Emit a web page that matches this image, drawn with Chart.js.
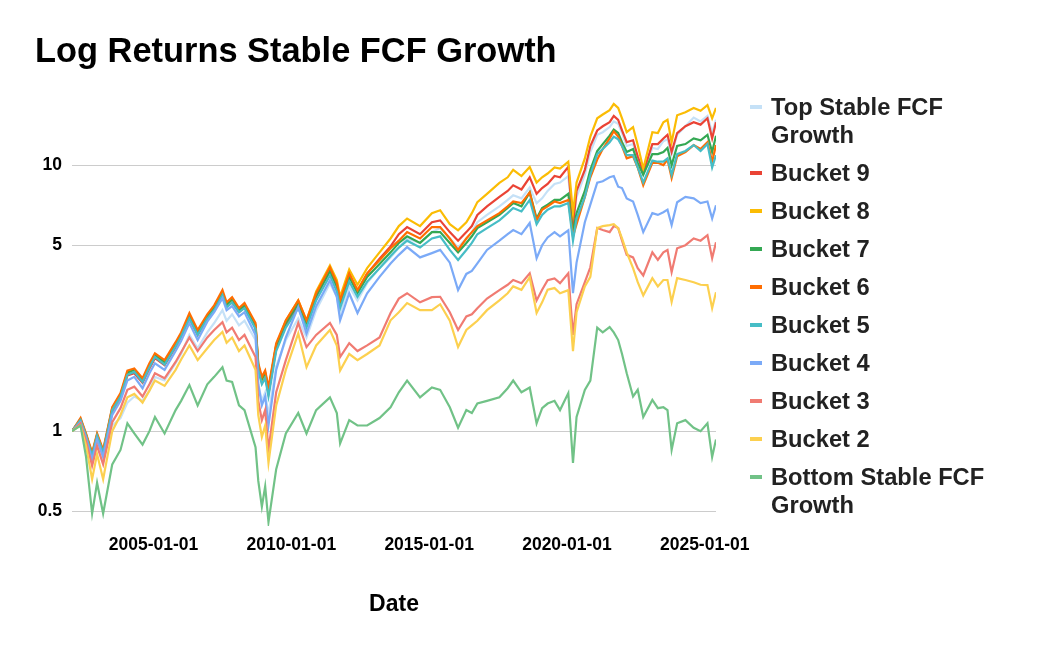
<!DOCTYPE html>
<html><head><meta charset="utf-8">
<script src="https://cdn.jsdelivr.net/npm/chart.js@4.4.1/dist/chart.umd.min.js"></script>
<style>
html,body{margin:0;padding:0;background:#fff;}
#wrap{position:relative;width:1040px;height:650px;overflow:hidden;}
#c{position:absolute;left:0;top:0;}
#legend{position:absolute;left:750px;top:93px;font:bold 23.7px "Liberation Sans",Arial,sans-serif;color:#222;}
.item{display:flex;align-items:flex-start;margin-bottom:10px;line-height:28px;}
.sw{width:12px;height:4px;margin-top:12px;margin-right:9px;flex:none;}
.lbl{max-width:230px;}
</style></head>
<body>
<div id="wrap"><canvas id="c" width="1040" height="650"></canvas><div id="legend"></div></div>
<script>
const titleText = "Log Returns Stable FCF Growth";
const xTitle = "Date";
const seriesNames = ["Top Stable FCF Growth","Bucket 9","Bucket 8","Bucket 7","Bucket 6","Bucket 5","Bucket 4","Bucket 3","Bucket 2","Bottom Stable FCF Growth"];
const seriesColors = ["#c5e1f7","#ea4335","#fbbc04","#34a853","#ff6d01","#46bdc6","#7baaf7","#f07b72","#fcd04f","#71c287"];
const xTickYears = [2005, 2010, 2015, 2020, 2025];
const yTickValues = [0.5, 1, 5, 10];

// dates as decimal years
const dates = [
 2002.04,2002.35,2002.55,2002.77,2002.95,2003.17,2003.5,2003.8,2004.05,2004.3,
 2004.6,2004.85,2005.05,2005.4,2005.8,2006.0,2006.3,2006.6,2006.95,2007.2,
 2007.5,2007.65,2007.85,2008.1,2008.3,2008.7,2008.8,2008.93,2009.05,2009.17,
 2009.45,2009.8,2010.25,2010.55,2010.9,2011.4,2011.65,2011.77,2012.1,2012.4,
 2012.75,2013.2,2013.6,2013.9,2014.2,2014.67,2015.1,2015.4,2015.75,2016.05,
 2016.35,2016.55,2016.75,2017.1,2017.55,2017.85,2018.05,2018.35,2018.65,2018.9,
 2019.1,2019.3,2019.55,2019.75,2020.05,2020.22,2020.35,2020.65,2020.85,2021.1,
 2021.3,2021.55,2021.7,2021.86,2022.0,2022.17,2022.4,2022.57,2022.77,2023.1,
 2023.3,2023.5,2023.65,2023.8,2024.0,2024.3,2024.6,2024.85,2025.1,2025.27,
 2025.41];

const topStable = [
 1.0,1.08,0.93,0.76,0.9,0.77,1.05,1.12,1.28,1.35,
 1.3,1.42,1.6,1.55,1.8,1.95,2.3,2.05,2.35,2.55,
 2.85,2.6,2.75,2.5,2.6,2.2,1.5,1.3,1.4,1.15,
 1.75,2.2,2.65,2.25,2.85,3.6,3.2,2.75,3.5,3.1,
 3.6,4.1,4.5,4.9,5.3,5.1,5.6,5.8,5.3,4.9,
 5.3,5.6,6.1,6.5,7.0,7.4,7.7,7.5,8.25,7.2,
 7.5,8.0,8.5,8.6,9.1,6.0,7.6,9.2,11.2,13.0,
 13.3,13.9,14.6,14.3,13.2,11.8,12.0,10.6,9.2,11.6,
 11.5,12.3,12.5,11.0,13.0,14.0,15.1,14.6,15.3,13.2,
 14.8];
const bucket9 = [
 1.0,1.1,0.95,0.8,0.94,0.82,1.18,1.33,1.62,1.65,
 1.52,1.72,1.88,1.77,2.07,2.27,2.65,2.3,2.65,2.85,
 3.25,2.95,3.05,2.8,2.92,2.45,1.72,1.52,1.62,1.38,
 2.05,2.5,2.98,2.52,3.2,4.0,3.5,3.05,3.85,3.35,
 3.9,4.45,4.95,5.5,5.85,5.5,6.1,6.2,5.6,5.2,
 5.6,5.9,6.5,7.0,7.6,8.0,8.4,8.1,9.0,7.8,
 8.2,8.5,9.1,9.0,9.85,5.9,8.0,9.6,11.8,13.5,
 14.0,14.5,15.3,14.8,13.5,12.2,12.4,10.8,9.4,12.0,
 12.0,12.6,13.0,11.2,13.2,14.0,14.5,14.2,15.0,12.6,
 14.5];
const bucket8 = [
 1.0,1.1,0.96,0.8,0.95,0.82,1.2,1.35,1.65,1.68,
 1.55,1.75,1.92,1.8,2.1,2.3,2.7,2.35,2.68,2.9,
 3.3,3.0,3.1,2.85,3.0,2.5,1.75,1.55,1.65,1.42,
 2.1,2.6,3.1,2.6,3.35,4.2,3.7,3.2,4.05,3.55,
 4.1,4.7,5.3,5.9,6.3,5.9,6.6,6.77,6.0,5.69,
 6.1,6.6,7.26,7.8,8.58,9.0,9.6,9.1,9.84,8.6,
 9.0,9.3,9.8,9.7,10.3,6.6,8.6,10.6,12.8,15.0,
 15.5,16.1,17.0,16.4,15.0,13.3,13.9,11.9,9.7,13.3,
 13.2,14.5,14.8,12.2,15.4,15.8,16.4,16.0,16.8,15.0,
 16.4];
const bucket7 = [
 1.0,1.11,0.97,0.82,0.97,0.84,1.22,1.37,1.66,1.7,
 1.56,1.77,1.93,1.82,2.12,2.31,2.72,2.36,2.7,2.92,
 3.3,3.0,3.12,2.85,2.97,2.5,1.77,1.57,1.66,1.43,
 2.1,2.55,3.02,2.55,3.22,4.0,3.5,3.02,3.8,3.3,
 3.8,4.25,4.7,5.1,5.4,5.1,5.6,5.6,5.1,4.7,
 5.1,5.4,5.8,6.1,6.5,6.9,7.2,7.0,7.9,6.3,
 6.9,7.1,7.4,7.4,7.8,5.6,6.6,8.0,9.6,11.3,
 12.0,12.9,13.6,13.2,12.2,11.2,11.5,10.2,9.2,11.0,
 11.0,11.2,11.6,10.0,11.8,12.0,12.6,12.4,13.0,11.2,
 12.9];
const bucket6 = [
 1.0,1.12,0.98,0.83,0.98,0.85,1.23,1.39,1.69,1.72,
 1.58,1.8,1.96,1.85,2.16,2.35,2.78,2.4,2.75,2.97,
 3.39,3.05,3.19,2.9,3.03,2.55,1.8,1.6,1.69,1.46,
 2.14,2.61,3.1,2.61,3.3,4.13,3.6,3.1,3.92,3.39,
 3.92,4.39,4.87,5.2,5.6,5.3,5.85,5.85,5.3,4.8,
 5.3,5.6,5.9,6.2,6.6,7.0,7.3,7.2,7.9,6.2,
 6.8,7.0,7.3,7.2,7.4,5.4,6.0,7.6,9.0,10.5,
 11.5,12.6,13.4,12.8,11.8,10.6,10.8,9.8,8.4,10.2,
 10.2,10.0,10.5,8.95,10.8,11.2,11.9,11.5,12.2,10.3,
 11.9];
const bucket5 = [
 1.0,1.1,0.96,0.81,0.96,0.83,1.2,1.35,1.63,1.67,
 1.53,1.74,1.9,1.78,2.08,2.27,2.65,2.3,2.65,2.85,
 3.25,2.92,3.05,2.8,2.9,2.42,1.7,1.5,1.58,1.35,
 2.0,2.45,2.9,2.45,3.1,3.85,3.35,2.9,3.65,3.2,
 3.65,4.1,4.55,4.9,5.2,4.9,5.3,5.4,4.8,4.4,
 4.8,5.1,5.5,5.8,6.2,6.6,6.9,6.7,7.4,6.0,
 6.5,6.8,7.0,7.0,7.2,5.2,6.3,7.6,9.2,11.0,
 11.5,12.2,12.8,12.5,11.8,10.9,10.9,9.8,8.6,10.4,
 10.3,10.3,10.6,9.2,11.0,11.3,11.9,11.3,12.0,9.8,
 10.9];
const bucket4 = [
 1.0,1.08,0.94,0.78,0.93,0.8,1.15,1.3,1.55,1.6,
 1.45,1.65,1.8,1.7,2.0,2.18,2.55,2.2,2.58,2.8,
 3.16,2.85,2.95,2.7,2.8,2.3,1.5,1.25,1.35,1.05,
 1.7,2.25,2.93,2.33,2.95,3.69,3.2,2.61,3.3,2.78,
 3.3,3.8,4.27,4.6,4.92,4.5,4.67,4.8,4.3,3.39,
 3.9,4.0,4.27,4.8,5.2,5.5,5.7,5.5,6.06,4.47,
 5.0,5.35,5.6,5.4,5.69,3.3,4.3,6.1,7.1,8.6,
 8.7,9.0,9.1,8.3,8.2,7.5,7.3,6.5,5.6,6.6,
 6.5,6.65,6.8,5.95,7.25,7.6,7.5,7.2,7.3,6.3,
 7.07];
const bucket3 = [
 1.0,1.07,0.92,0.74,0.88,0.75,1.08,1.22,1.43,1.47,
 1.35,1.5,1.65,1.58,1.82,1.98,2.25,2.0,2.25,2.4,
 2.57,2.35,2.45,2.2,2.3,1.9,1.3,1.1,1.2,0.85,
 1.4,1.85,2.55,2.07,2.3,2.55,2.3,1.9,2.14,2.0,
 2.1,2.25,2.78,3.15,3.3,3.05,3.19,3.2,2.8,2.4,
 2.7,2.75,2.9,3.15,3.39,3.55,3.7,3.6,3.92,3.1,
 3.4,3.69,3.75,3.6,3.92,2.3,3.0,3.63,4.13,5.8,
 5.7,5.6,5.9,5.8,5.2,4.6,4.5,4.1,3.85,4.7,
 4.4,4.7,4.8,3.96,4.87,5.0,5.3,5.2,5.45,4.47,
 5.13];
const bucket2 = [
 1.0,1.05,0.88,0.66,0.82,0.66,1.0,1.15,1.34,1.38,
 1.28,1.42,1.55,1.48,1.7,1.86,2.1,1.85,2.05,2.2,
 2.36,2.15,2.25,2.0,2.1,1.7,1.15,0.95,1.05,0.76,
 1.25,1.7,2.33,1.74,2.1,2.4,2.1,1.69,1.95,1.85,
 1.95,2.1,2.61,2.8,3.03,2.85,2.85,3.0,2.6,2.07,
 2.4,2.5,2.6,2.85,3.1,3.3,3.5,3.4,3.79,2.78,
 3.05,3.4,3.45,3.3,3.39,2.0,2.8,3.5,3.8,5.8,
 5.9,5.95,6.0,5.8,5.3,4.7,4.1,3.63,3.24,3.76,
 3.5,3.7,3.7,3.06,3.76,3.7,3.63,3.55,3.54,2.9,
 3.33];
const bottomStable = [
 1.0,1.05,0.8,0.49,0.64,0.49,0.75,0.85,1.07,0.98,
 0.89,1.0,1.13,0.98,1.2,1.3,1.49,1.25,1.5,1.6,
 1.74,1.55,1.53,1.25,1.2,0.87,0.65,0.52,0.62,0.455,
 0.72,0.98,1.17,0.98,1.2,1.34,1.17,0.9,1.1,1.05,
 1.05,1.12,1.23,1.4,1.55,1.34,1.46,1.43,1.23,1.03,
 1.2,1.17,1.27,1.3,1.34,1.45,1.55,1.4,1.46,1.07,
 1.22,1.27,1.3,1.2,1.39,0.76,1.13,1.43,1.55,2.45,
 2.35,2.46,2.35,2.2,1.95,1.65,1.35,1.43,1.13,1.31,
 1.22,1.23,1.2,0.85,1.07,1.1,1.03,1.0,1.07,0.8,
 0.93];

const seriesValues = [topStable,bucket9,bucket8,bucket7,bucket6,bucket5,bucket4,bucket3,bucket2,bottomStable];

const FONT = '"Liberation Sans", Arial, sans-serif';

const datasets = seriesNames.map((name, i) => ({
  label: name,
  data: dates.map((d, k) => ({x: d, y: seriesValues[i][k]})),
  borderColor: seriesColors[i],
  backgroundColor: seriesColors[i],
  borderWidth: 2.2,
  pointRadius: 0,
  tension: 0,
  order: -i
}));

new Chart(document.getElementById('c'), {
  type: 'line',
  data: { datasets },
  options: {
    responsive: false,
    animation: false,
    events: [],
    layout: { padding: { top: 0, left: 35, right: 324, bottom: 0 } },
    plugins: {
      legend: { display: false },
      tooltip: { enabled: false },
      title: {
        display: true, text: titleText, align: 'start', color: '#000',
        font: { family: FONT, size: 34.4, weight: 'bold', lineHeight: 1.2 },
        padding: { top: 32, bottom: 17.7 }
      }
    },
    scales: {
      x: {
        type: 'linear',
        min: dates[0], max: dates[dates.length - 1],
        grid: { display: false, drawTicks: false },
        border: { display: false },
        afterBuildTicks: (s) => { s.ticks = xTickYears.map(v => ({ value: v })); },
        afterFit: (s) => { s.height = 124; },
        ticks: {
          autoSkip: false, maxRotation: 0, padding: 9, color: '#000',
          font: { family: FONT, size: 17.5, weight: 'bold' },
          callback: (v) => v + '-01-01'
        },
        title: {
          display: true, text: xTitle, color: '#000',
          font: { family: FONT, size: 23, weight: 'bold', lineHeight: 1.2 },
          padding: { top: 0, bottom: 32 }
        }
      },
      y: {
        type: 'logarithmic',
        min: 0.44, max: 19,
        grid: { color: '#cccccc', lineWidth: 1, drawTicks: false },
        border: { display: false },
        afterBuildTicks: (s) => { s.ticks = yTickValues.map(v => ({ value: v })); },
        afterFit: (s) => { s.width = 37; },
        ticks: {
          padding: 10, color: '#000',
          font: { family: FONT, size: 17.5, weight: 'bold' },
          callback: (v) => String(v)
        }
      }
    }
  }
});

const legend = document.getElementById('legend');
seriesNames.forEach((name, i) => {
  const item = document.createElement('div');
  item.className = 'item';
  const sw = document.createElement('span');
  sw.className = 'sw';
  sw.style.background = seriesColors[i];
  const lbl = document.createElement('span');
  lbl.className = 'lbl';
  lbl.textContent = name;
  item.appendChild(sw); item.appendChild(lbl);
  legend.appendChild(item);
});
</script>
</body></html>
